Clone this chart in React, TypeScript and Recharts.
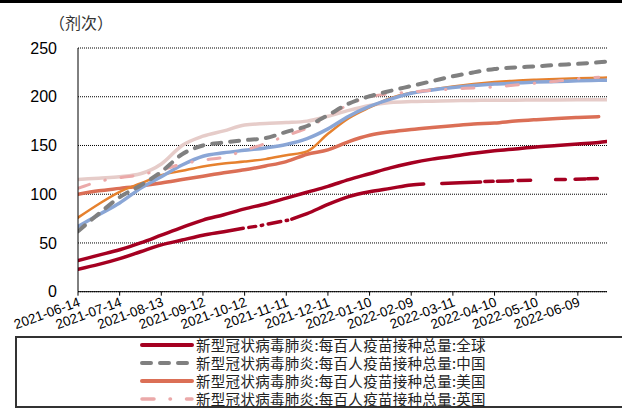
import { LineChart, Line, XAxis, YAxis, CartesianGrid } from 'recharts';

// x values are days since 2021-06-14
const days = [0, 15, 30, 45, 60, 75, 90, 105, 120, 135, 150, 165, 180, 195, 210, 225, 240, 255, 270, 285, 300, 315, 330, 345, 360, 375, 381];

const tickDays = [0, 30, 60, 90, 120, 150, 180, 210, 240, 270, 300, 330, 360];
const tickLabels = [
  '2021-06-14', '2021-07-14', '2021-08-13', '2021-09-12', '2021-10-12', '2021-11-11', '2021-12-11',
  '2022-01-10', '2022-02-09', '2022-03-11', '2022-04-10', '2022-05-10', '2022-06-09',
];
const yTicks = [0, 50, 100, 150, 200, 250];

const globalVals = [32, 37.5, 43, 50, 58, 66, 73.5, 79, 85, 90, 96, 102, 108, 115, 121, 127, 132, 136, 139, 142, 144.5, 146.5, 148.5, 150, 151.5, 153, 154];
const chinaVals = [62, 80, 97, 109, 123, 141, 150, 153, 155.5, 157.5, 164, 170, 181, 193, 200.5, 206, 211, 216, 221, 225, 228.5, 230, 231.2, 232.6, 233.8, 235.3, 236];
const usVals = [100, 103.5, 106, 108.5, 111.5, 115, 118.5, 122, 125, 129, 133.5, 141, 145.5, 154, 160.5, 164, 166.5, 168.5, 170.3, 172, 173, 175, 176.5, 177.8, 178.8, 179.6, null];
const ukVals = [106, 113, 117, 120, 125, 131, 135, 138, 145, 152, 160, 168, 180, 192, 200, 203, 205, 206.5, 208, 209, 210, 212, 214, 216, 218.5, 220, null];
const orangeVals = [76, 90, 102.5, 111, 119.5, 124, 128.5, 131.5, 133.5, 136, 140, 144, 162, 178, 189, 198.5, 204, 207.5, 210.5, 213, 215, 216.5, 217.5, 218.3, 219, 219.5, 219.7];
const blueVals = [67, 79, 91, 106, 118, 130, 139, 142.5, 145, 147.5, 151, 157, 167, 180, 190, 197.5, 203.5, 207, 209.5, 211.5, 213, 214, 215, 215.7, 216.3, 216.8, 217];
const paleVals = [115, 116.5, 118, 121, 131, 150, 159.5, 165, 171, 172.5, 173.5, 175, 180, 186, 191, 194, 195, 195.5, 196, 196.2, 196.4, 196.5, 196.6, 196.7, 196.8, 196.9, 197];

// lower dark red series has gaps in its data
const lowerDays = [0, 15, 30, 45, 60, 75, 90, 105, 119, 121, 123, 128, 130, 132, 133, 135, 137, 146, 148, 150, 151, 152.5, 154, 165, 180, 195, 210, 225, 240, 249, 255, 262, 275, 290, 291.5, 293, 299, 300.5, 302, 313, 315, 317, 326, 335, 344, 351, 355, 358, 365.5, 366.3, 367, 374];
const lowerVals = [23, 28, 34, 41, 48, 53, 58, 61.5, 65, null, 66, 67, null, 68, 68.3, null, 69.5, 72, null, 73, 73.3, null, 74.5, 80, 89.5, 97.5, 102.5, 106, 109.5, 110.5, null, 111, 111.8, 112.5, null, 113, 113.2, null, 113.4, 113.7, null, 114, 114.3, null, 115, 115.2, null, 115.4, 115.6, null, 115.8, 116];

const legendNames = [
  '新型冠状病毒肺炎:每百人疫苗接种总量:全球',
  '新型冠状病毒肺炎:每百人疫苗接种总量:中国',
  '新型冠状病毒肺炎:每百人疫苗接种总量:美国',
  '新型冠状病毒肺炎:每百人疫苗接种总量:英国',
];

const C_GLOBAL = '#A50021';
const C_CHINA = '#808080';
const C_US = '#DB6F56';
const C_UK = '#EBA9A9';
const C_ORANGE = '#E6812E';
const C_BLUE = '#8AA6D6';
const C_PALE = '#E6CCC9';

const rows = days.map((d, i) => ({
  d,
  global: globalVals[i],
  china: chinaVals[i],
  us: usVals[i],
  uk: ukVals[i],
  orange: orangeVals[i],
  blue: blueVals[i],
  pale: paleVals[i],
}));

const lowerRows = lowerDays.map((d, i) => ({ d, lower: lowerVals[i] }));

const DateTick = ({ x, y, payload }: any) => {
  const label = tickLabels[tickDays.indexOf(payload.value)];
  const tx = x + 3;
  const ty = y + 8;
  return (
    <text x={tx} y={ty} textAnchor="end" fontSize={13.5} fill="#000"
      fontFamily='"Liberation Sans", Arial, sans-serif'
      transform={`rotate(-20 ${tx} ${ty})`}>
      {label}
    </text>
  );
};

const legendStyles = [
  { color: C_GLOBAL, width: 4, dash: undefined },
  { color: C_CHINA, width: 4, dash: '9 9' },
  { color: C_US, width: 4, dash: undefined },
  { color: C_UK, width: 3.5, dash: '12 16 0.5 16' },
];

export default function App() {
  return (
    <div style={{ position: 'relative', width: 622, height: 410, overflow: 'hidden', background: '#fff' }}>
      <style>{'body{margin:0}'}</style>
      <div style={{ position: 'absolute', left: 0, top: 0, width: 622, height: 3, background: '#000' }} />
      <div style={{
        position: 'absolute', left: 49, top: 13, fontSize: 16, lineHeight: '18px',
        fontFamily: '"Noto Sans CJK SC", sans-serif', color: '#333',
      }}>（剂次）</div>

      <div style={{ position: 'absolute', left: 0, top: 0 }}>
        <LineChart width={622} height={340} data={rows} margin={{ top: 48, right: 15, bottom: 8.3, left: 0 }}>
          <CartesianGrid vertical={false} stroke="#000" strokeDasharray="1 1" />
          <XAxis dataKey="d" type="number" domain={[0, 381]} ticks={tickDays} interval={0}
            height={40} tickSize={4} tickMargin={2} allowDataOverflow
            axisLine={{ stroke: '#000' }} tickLine={{ stroke: '#000' }} tick={<DateTick />} />
          <YAxis type="number" domain={[0, 250]} ticks={yTicks} width={78} interval={0}
            tickLine={false} tickSize={6} tickMargin={15} axisLine={{ stroke: '#000' }}
            tick={{ fontSize: 16, fill: '#000', fontFamily: '"Liberation Sans", Arial, sans-serif' }} />
          <Line dataKey="pale" type="monotone" stroke={C_PALE} strokeWidth={3.5} dot={false} activeDot={false} isAnimationActive={false} strokeLinecap="round" />
          <Line dataKey="us" type="monotone" stroke={C_US} strokeWidth={3.5} dot={false} activeDot={false} isAnimationActive={false} strokeLinecap="round" />
          <Line dataKey="orange" type="monotone" stroke={C_ORANGE} strokeWidth={2.5} dot={false} activeDot={false} isAnimationActive={false} strokeLinecap="round" />
          <Line dataKey="blue" type="monotone" stroke={C_BLUE} strokeWidth={3.5} dot={false} activeDot={false} isAnimationActive={false} strokeLinecap="round" />
          <Line dataKey="uk" type="monotone" stroke={C_UK} strokeWidth={3} strokeDasharray="12 16 0.5 16" dot={false} activeDot={false} isAnimationActive={false} strokeLinecap="round" />
          <Line dataKey="china" type="monotone" stroke={C_CHINA} strokeWidth={4} strokeDasharray="9 9" dot={false} activeDot={false} isAnimationActive={false} strokeLinecap="round" />
          <Line data={lowerRows} dataKey="lower" type="monotone" stroke={C_GLOBAL} strokeWidth={3.5} dot={false} activeDot={false} isAnimationActive={false} strokeLinecap="round" />
          <Line dataKey="global" type="monotone" stroke={C_GLOBAL} strokeWidth={3.5} dot={false} activeDot={false} isAnimationActive={false} strokeLinecap="round" />
        </LineChart>
      </div>

      <div style={{
        position: 'absolute', left: 15, top: 336, width: 630, height: 72,
        border: '2px solid #333', boxSizing: 'border-box',
      }} />
      {legendNames.map((name, i) => {
        const s = legendStyles[i];
        const cy = 345 + i * 17.9;
        return (
          <div key={name}>
            <svg style={{ position: 'absolute', left: 140, top: cy - 4 }} width={54} height={8}>
              <line x1={2} y1={4} x2={52} y2={4} stroke={s.color} strokeWidth={s.width}
                strokeDasharray={s.dash} strokeLinecap="round" />
            </svg>
            <div style={{
              position: 'absolute', left: 196, top: cy - 8, height: 16, lineHeight: '16px',
              fontSize: 14.5, letterSpacing: 0.3, whiteSpace: 'nowrap', color: '#222',
              fontFamily: '"Noto Sans CJK SC", sans-serif',
            }}>{name}</div>
          </div>
        );
      })}
    </div>
  );
}
